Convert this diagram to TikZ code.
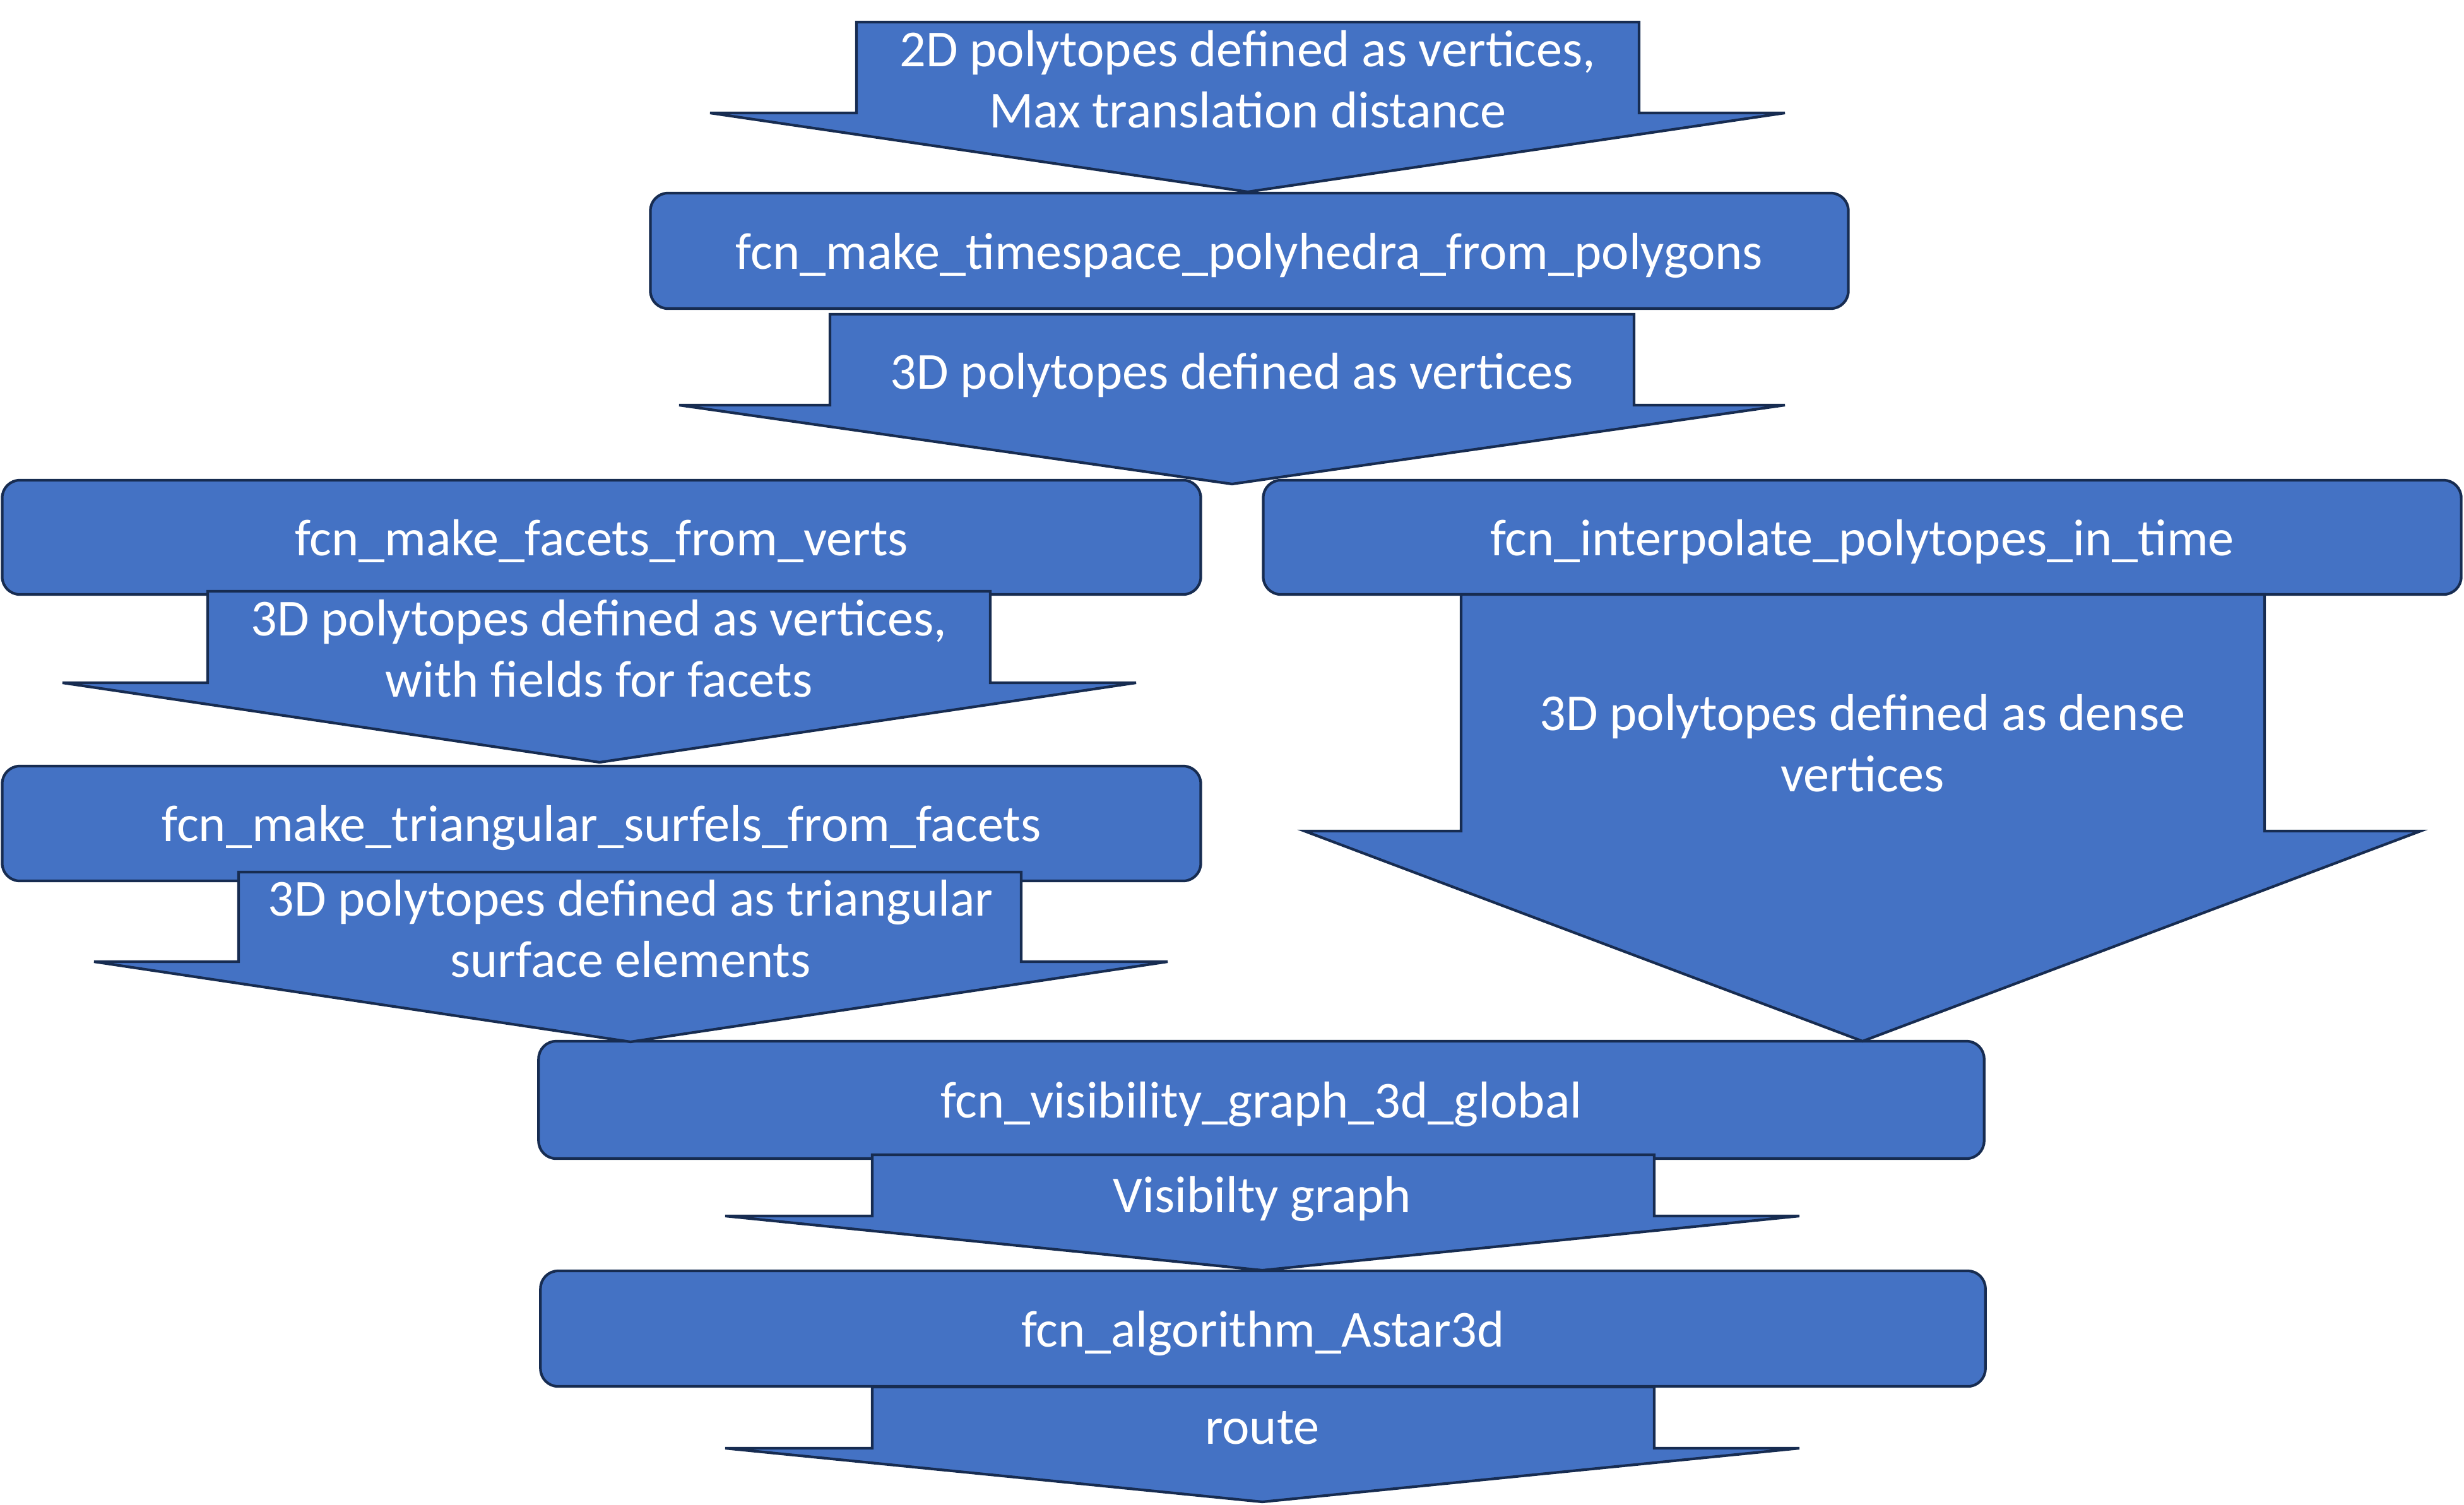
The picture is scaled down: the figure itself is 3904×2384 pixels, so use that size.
\documentclass[tikz,border=0pt]{standalone}
\usepackage{fontspec}
\setmainfont{Carlito}
\definecolor{fillblue}{HTML}{4472C4}
\definecolor{edgeblue}{HTML}{172C51}
\begin{document}
\begin{tikzpicture}[x=0.01cm,y=-0.01cm,
  txt/.style={font=\fontsize{23.4}{27.6}\selectfont, text=white},
  box/.style={txt, draw=edgeblue, fill=fillblue, line width=1.2pt, rounded corners=0.28cm, inner sep=0pt, outer sep=0pt, text height=0.57cm, text depth=0pt},
  barrow/.style={draw=edgeblue, fill=fillblue, line width=1.2pt, line join=miter},
  lbl/.style={txt, align=center, inner sep=0pt}]
\useasboundingbox (0,0) rectangle (3904,2384);
% boxes
\node[box, minimum width=18.97cm, minimum height=1.83cm] (b1) at (1979.5,397.5) {fcn\_make\_timespace\_polyhedra\_from\_polygons};
\node[box, minimum width=18.98cm, minimum height=1.81cm] (bf) at (953,851.5) {fcn\_make\_facets\_from\_verts};
\node[box, minimum width=18.97cm, minimum height=1.81cm] (bi) at (2950.5,851.5) {fcn\_interpolate\_polytopes\_in\_time};
\node[box, minimum width=18.98cm, minimum height=1.82cm] (bt) at (953,1305) {fcn\_make\_triangular\_surfels\_from\_facets};
\node[box, minimum width=22.89cm, minimum height=1.86cm] (bv) at (1998.5,1743) {fcn\_visibility\_graph\_3d\_global};
\node[box, minimum width=22.88cm, minimum height=1.83cm] (ba) at (2001,2105.5) {fcn\_algorithm\_Astar3d};
% block arrows
\draw[barrow] (1357,35) -- (2597,35) -- (2597,179) -- (2828,179) -- (1977,304) -- (1125,179) -- (1357,179) -- cycle;
\draw[barrow] (1315,498) -- (2589,498) -- (2589,642) -- (2828,642) -- (1952,767) -- (1076,642) -- (1315,642) -- cycle;
\draw[barrow] (329,937) -- (1569,937) -- (1569,1082) -- (1800,1082) -- (950,1208) -- (99,1082) -- (329,1082) -- cycle;
\draw[barrow] (378,1382) -- (1618,1382) -- (1618,1524) -- (1850,1524) -- (999,1651) -- (149,1524) -- (378,1524) -- cycle;
\draw[barrow] (2315,942) -- (3588,942) -- (3588,1317) -- (3835,1317) -- (2951,1650) -- (2067,1317) -- (2315,1317) -- cycle;
\draw[barrow] (1382,1830) -- (2621,1830) -- (2621,1927) -- (2851,1927) -- (2000,2013) -- (1149,1927) -- (1382,1927) -- cycle;
\draw[barrow] (1382,2198) -- (2621,2198) -- (2621,2295) -- (2851,2295) -- (2000,2380) -- (1149,2295) -- (1382,2295) -- cycle;
% arrow labels
\node[lbl] (l1) at (1977,126) {2D polytopes defined as vertices,\\Max translation distance};
\node[lbl] (l2) at (1952,595) {3D polytopes defined as vertices};
\node[lbl] (l3) at (949,1028) {3D polytopes defined as vertices,\\with fields for facets};
\node[lbl] (l4) at (999,1472) {3D polytopes defined as triangular\\surface elements};
\node[lbl] (l5) at (2951,1178) {3D polytopes defined as dense\\vertices};
\node[lbl] (l6) at (2000,1900) {Visibilty graph};
\node[lbl] (l7) at (2000,2263) {route};
\end{tikzpicture}
\end{document}
